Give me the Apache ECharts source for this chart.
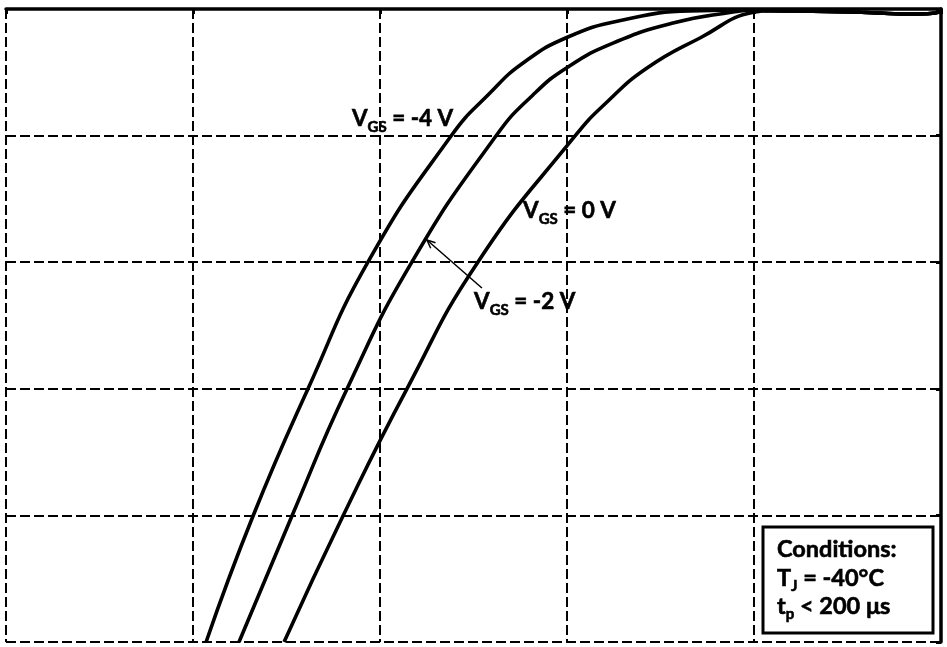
<!DOCTYPE html>
<html><head><meta charset="utf-8">
<script src="https://cdn.jsdelivr.net/npm/echarts@6/dist/echarts.min.js"></script>
<style>html,body{margin:0;padding:0;background:#fff}#c{width:947px;height:647px}</style>
</head><body><div id="c"></div>
<script>
// axis ranges (labels are cropped out of the reference)
const xTicks = [-5, -4, -3, -2, -1, 0];
const yTicks = [-5, -4, -3, -2, -1, 0];
const tailCommon = [[-0.914,-0.014],[-0.754,-0.016],[-0.487,-0.024],[-0.326,-0.032],[-0.219,-0.039],[-0.112,-0.039],[-0.032,-0.032],[0,-0.016]];
const vgsNeg4 = [[-3.93,-5],[-3.679,-4.005],[-3.385,-3.0],[-3.064,-1.998],[-2.62,-1.003],[-2.412,-0.664],[-2.235,-0.427],[-1.995,-0.221],[-1.701,-0.087],[-1.342,-0.016],[-0.995,-0.008]];
const vgsNeg2 = [[-3.754,-5],[-3.471,-4.005],[-3.176,-3.0],[-2.829,-1.998],[-2.38,-1.003],[-2.182,-0.679],[-1.995,-0.458],[-1.754,-0.269],[-1.433,-0.111],[-1.112,-0.024],[-0.995,-0.008]];
const vgs0 = [[-3.513,-5],[-3.198,-4.005],[-2.856,-3.0],[-2.476,-1.998],[-1.957,-1.003],[-1.786,-0.735],[-1.572,-0.466],[-1.289,-0.229],[-0.995,-0.024]];
const seriesNames = ['VGS = -4 V', 'VGS = -2 V', 'VGS = 0 V'];
const conditionLines = [
  [{t:'Conditions:'}],
  [{t:'T'},{t:'J',sub:true},{t:' = -40°C'}],
  [{t:'t'},{t:'p',sub:true},{t:' < 200 μs'}]
];
// annotation anchors in data coords: [x, baseline y]
const curveLabels = [
  {parts:[{t:'V'},{t:'GS',sub:true},{t:' = -4 V'}], at:[-3.150,-0.932]},
  {parts:[{t:'V'},{t:'GS',sub:true},{t:' = 0 V'}], at:[-2.235,-1.659]},
  {parts:[{t:'V'},{t:'GS',sub:true},{t:' = -2 V'}], at:[-2.497,-2.378]}
];
const arrowFrom = [-2.455,-2.204], arrowTo = [-2.749,-1.825];

const chart = echarts.init(document.getElementById('c'));
const FONT = 'Lato';
const mctx = document.createElement('canvas').getContext('2d');
function tw(t, size){ mctx.font = 'bold ' + size + 'px ' + FONT; return mctx.measureText(t).width; }
function textEls(parts, x, baseline, MAIN, SUB, DROP){
  const els = []; let cx = x;
  parts.forEach(p => {
    const size = p.sub ? SUB : MAIN;
    const b = baseline + (p.sub ? DROP : 0);
    els.push({type:'text', x: cx, y: b - 0.36*size, z: 100,
      style:{text:p.t, fontFamily:FONT, fontWeight:'bold', fontSize:size, fill:'#000', stroke:'#000', lineWidth:0.6, align:'left', verticalAlign:'middle'}});
    cx += tw(p.t, size);
  });
  return els;
}
const dash = {color:'#000', width:2, type:[10,4]};
const mk = (name, data) => ({name, type:'line', data, smooth:0.5, showSymbol:false, symbol:'none',
  lineStyle:{color:'#000', width:3.6}, z:5});
chart.setOption({
  animation:false,
  grid:{left:6, right:6, top:9, bottom:5, containLabel:false},
  xAxis:{type:'value', min:xTicks[0], max:xTicks[xTicks.length-1], interval:1, position:'top',
    axisLine:{show:true, onZero:false, lineStyle:{color:'#000', width:3.5}},
    axisTick:{show:true, inside:true, length:5, lineStyle:{color:'#000', width:3}},
    axisLabel:{show:false}, splitLine:{show:true, lineStyle:dash}},
  yAxis:{type:'value', min:yTicks[0], max:yTicks[yTicks.length-1], interval:1, position:'right',
    axisLine:{show:true, onZero:false, lineStyle:{color:'#000', width:3.5}},
    axisTick:{show:true, inside:true, length:5, lineStyle:{color:'#000', width:3}},
    axisLabel:{show:false}, splitLine:{show:true, lineStyle:dash}},
  series:[mk(seriesNames[0], vgsNeg4.concat(tailCommon)), mk(seriesNames[1], vgsNeg2.concat(tailCommon)), mk(seriesNames[2], vgs0.concat(tailCommon))]
});
const P = d => chart.convertToPixel({gridIndex:0}, d);
let g = [];
curveLabels.forEach(l => { const p = P(l.at); g = g.concat(textEls(l.parts, p[0], p[1], 22.5, 15, 6)); });
const a = P(arrowFrom), b = P(arrowTo);
const ang = Math.atan2(b[1]-a[1], b[0]-a[0]), hl = 9, ha = 0.42;
g.push({type:'line', shape:{x1:a[0],y1:a[1],x2:b[0],y2:b[1]}, style:{stroke:'#000', lineWidth:1.5}, z:100});
g.push({type:'polyline', shape:{points:[[b[0]-hl*Math.cos(ang-ha), b[1]-hl*Math.sin(ang-ha)], b, [b[0]-hl*Math.cos(ang+ha), b[1]-hl*Math.sin(ang+ha)]]}, style:{stroke:'#000', fill:null, lineWidth:1.5}, z:100});
g.push({type:'rect', shape:{x:763, y:527, width:170, height:106}, style:{fill:'#fff', stroke:'#000', lineWidth:3}, z:90});
conditionLines.forEach((ln, i) => { g = g.concat(textEls(ln, 777, 558 + i*28.5, 23.5, 15, 5)); });
chart.setOption({graphic:g});
</script></body></html>
